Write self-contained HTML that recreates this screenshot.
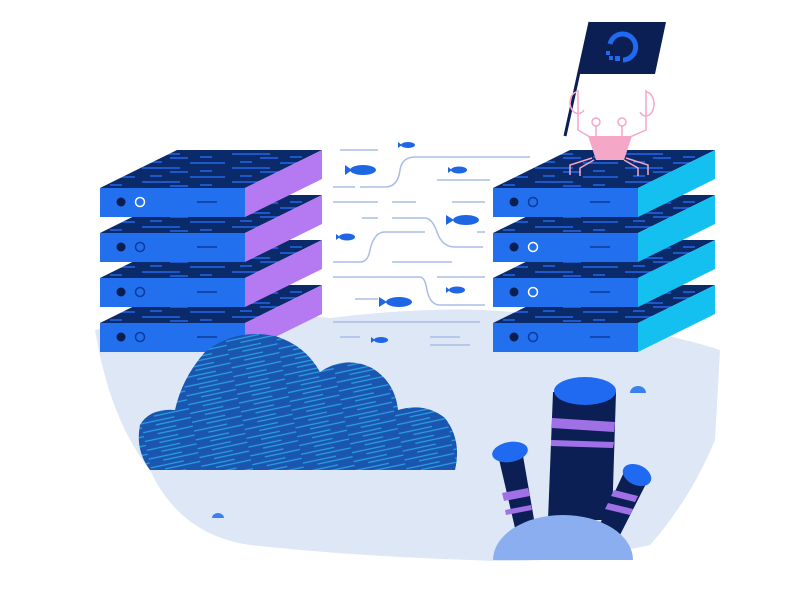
<!DOCTYPE html>
<html><head><meta charset="utf-8"><style>html,body{margin:0;padding:0;background:#fff}svg{display:block}</style></head>
<body>
<svg width="800" height="600" viewBox="0 0 800 600" xmlns="http://www.w3.org/2000/svg">
<defs>
<pattern id="streak" width="90" height="14" patternUnits="userSpaceOnUse">
<rect width="90" height="14" fill="#0b2a6a"/>
<path d="M0 3 H35 M42 8 H80 M10 11 H22 M50 2 H62 M70 12 H88" stroke="#1f5fd8" stroke-width="1.8"/>
</pattern>
<pattern id="cloudp" width="50" height="9" patternUnits="userSpaceOnUse" patternTransform="rotate(-12)">
<rect width="50" height="9" fill="#1a55b0"/>
<path d="M0 3 H34 M14 7 H50" stroke="#2a9fe0" stroke-width="1.3"/>
</pattern>
</defs>
<path d="M95 330 Q200 305 330 318 Q480 300 560 320 Q660 330 720 350 L715 440 Q690 500 650 545 Q560 565 470 560 Q350 556 250 545 Q180 535 150 470 Q110 420 95 330 Z" fill="#dde7f6"/>
<g stroke="#a9bde6" stroke-width="1.5" fill="none">
<path d="M340 150 H378 M333 187 H355 M360 187 H385 Q398 187 400 170 Q402 157 415 157 H530 M437 180 H490"/>
<path d="M333 202 H378 M392 202 H416 M452 202 H485 M362 218 H378 M392 218 H425 Q432 218 437 232 Q442 247 455 247 H483 M477 232 H485"/>
<path d="M333 262 H360 Q368 262 370 250 Q374 232 385 232 H425 M392 262 H452 M333 277 H420 Q425 277 427 290 Q430 305 440 305 H485 M437 277 H485"/>
<path d="M355 299 H378 M340 337 H360 M430 337 H460 M430 345 H470 M333 322 H480"/>
</g>
<g fill="#1f66e5">
<g transform="translate(345,170)"><ellipse cx="18" cy="0" rx="13" ry="5"/><path d="M0 -5 L7 0 L0 5 Z"/></g>
<g transform="translate(398,145)"><ellipse cx="10" cy="0" rx="7" ry="3"/><path d="M0 -3 L4 0 L0 3 Z"/></g>
<g transform="translate(448,170)"><ellipse cx="11" cy="0" rx="8" ry="3.5"/><path d="M0 -3 L4 0 L0 3 Z"/></g>
<g transform="translate(446,220)"><ellipse cx="20" cy="0" rx="13" ry="5"/><path d="M0 -5 L8 0 L0 5 Z"/></g>
<g transform="translate(336,237)"><ellipse cx="11" cy="0" rx="8" ry="3.5"/><path d="M0 -3 L4 0 L0 3 Z"/></g>
<g transform="translate(446,290)"><ellipse cx="11" cy="0" rx="8" ry="3.5"/><path d="M0 -3 L4 0 L0 3 Z"/></g>
<g transform="translate(379,302)"><ellipse cx="20" cy="0" rx="13" ry="5"/><path d="M0 -5 L8 0 L0 5 Z"/></g>
<g transform="translate(371,340)"><ellipse cx="10" cy="0" rx="7" ry="3"/><path d="M0 -3 L4 0 L0 3 Z"/></g>
</g>
<g>
<g transform="translate(100,323)"><polygon points="0,0 77,-38 222,-38 145,0" fill="url(#streak)"/><polygon points="145,0 222,-38 222,-9 145,29" fill="#b57af2"/><rect width="145" height="29" fill="#2270ee"/><circle cx="21" cy="14" r="4.5" fill="#0a1e50"/><circle cx="40" cy="14" r="4.5" fill="none" stroke="#0b3a9a" stroke-width="1.5"/><path d="M97 14 H117" stroke="#0b3a9a" stroke-width="1.5"/></g>
<g transform="translate(100,278)"><polygon points="0,0 77,-38 222,-38 145,0" fill="url(#streak)"/><polygon points="145,0 222,-38 222,-9 145,29" fill="#b57af2"/><rect width="145" height="29" fill="#2270ee"/><circle cx="21" cy="14" r="4.5" fill="#0a1e50"/><circle cx="40" cy="14" r="4.5" fill="none" stroke="#0b3a9a" stroke-width="1.5"/><path d="M97 14 H117" stroke="#0b3a9a" stroke-width="1.5"/></g>
<g transform="translate(100,233)"><polygon points="0,0 77,-38 222,-38 145,0" fill="url(#streak)"/><polygon points="145,0 222,-38 222,-9 145,29" fill="#b57af2"/><rect width="145" height="29" fill="#2270ee"/><circle cx="21" cy="14" r="4.5" fill="#0a1e50"/><circle cx="40" cy="14" r="4.5" fill="none" stroke="#0b3a9a" stroke-width="1.5"/><path d="M97 14 H117" stroke="#0b3a9a" stroke-width="1.5"/></g>
<g transform="translate(100,188)"><polygon points="0,0 77,-38 222,-38 145,0" fill="url(#streak)"/><polygon points="145,0 222,-38 222,-9 145,29" fill="#b57af2"/><rect width="145" height="29" fill="#2270ee"/><circle cx="21" cy="14" r="4.5" fill="#0a1e50"/><circle cx="40" cy="14" r="4.5" fill="none" stroke="#fff" stroke-width="1.5"/><path d="M97 14 H117" stroke="#0b3a9a" stroke-width="1.5"/></g>
</g>
<g>
<g transform="translate(493,323)"><polygon points="0,0 77,-38 222,-38 145,0" fill="url(#streak)"/><polygon points="145,0 222,-38 222,-9 145,29" fill="#14c0f0"/><rect width="145" height="29" fill="#2270ee"/><circle cx="21" cy="14" r="4.5" fill="#0a1e50"/><circle cx="40" cy="14" r="4.5" fill="none" stroke="#0b3a9a" stroke-width="1.5"/><path d="M97 14 H117" stroke="#0b3a9a" stroke-width="1.5"/></g>
<g transform="translate(493,278)"><polygon points="0,0 77,-38 222,-38 145,0" fill="url(#streak)"/><polygon points="145,0 222,-38 222,-9 145,29" fill="#14c0f0"/><rect width="145" height="29" fill="#2270ee"/><circle cx="21" cy="14" r="4.5" fill="#0a1e50"/><circle cx="40" cy="14" r="4.5" fill="none" stroke="#fff" stroke-width="1.5"/><path d="M97 14 H117" stroke="#0b3a9a" stroke-width="1.5"/></g>
<g transform="translate(493,233)"><polygon points="0,0 77,-38 222,-38 145,0" fill="url(#streak)"/><polygon points="145,0 222,-38 222,-9 145,29" fill="#14c0f0"/><rect width="145" height="29" fill="#2270ee"/><circle cx="21" cy="14" r="4.5" fill="#0a1e50"/><circle cx="40" cy="14" r="4.5" fill="none" stroke="#fff" stroke-width="1.5"/><path d="M97 14 H117" stroke="#0b3a9a" stroke-width="1.5"/></g>
<g transform="translate(493,188)"><polygon points="0,0 77,-38 222,-38 145,0" fill="url(#streak)"/><polygon points="145,0 222,-38 222,-9 145,29" fill="#14c0f0"/><rect width="145" height="29" fill="#2270ee"/><circle cx="21" cy="14" r="4.5" fill="#0a1e50"/><circle cx="40" cy="14" r="4.5" fill="none" stroke="#0b3a9a" stroke-width="1.5"/><path d="M97 14 H117" stroke="#0b3a9a" stroke-width="1.5"/></g>
</g>
<line x1="590" y1="22" x2="565" y2="136" stroke="#0b1f55" stroke-width="3"/>
<polygon points="590,22 666,22 655,74 580,74" fill="#0b1f55"/>
<path d="M610 44 A13 13 0 1 1 623 60" fill="none" stroke="#1f6af0" stroke-width="5"/>
<rect x="615" y="56" width="5" height="5" fill="#1f6af0"/><rect x="609" y="56" width="4" height="4" fill="#1f6af0"/><rect x="606" y="51" width="4" height="4" fill="#1f6af0"/>
<g stroke="#f5a7c8" stroke-width="1.5" fill="none">
<path d="M576 92 A8 11 0 1 0 584 110"/>
<path d="M578 90 V130 L590 137"/>
<path d="M646 92 A8 12 0 1 1 640 112"/>
<path d="M646 90 V130 L630 137"/>
<circle cx="596" cy="122" r="4"/><circle cx="622" cy="122" r="4"/>
<path d="M596 126 V137 M622 126 V137"/>
<path d="M592 158 L570 165 V175 M594 160 L580 168 V176 M626 158 L648 165 V175 M624 160 L638 168 V176"/>
</g>
<polygon points="588,136 632,136 624,160 596,160" fill="#f5a7c8"/>
<path d="M150 470 Q135 450 140 425 Q150 408 175 410 Q182 378 205 352 Q235 328 275 336 Q305 345 320 372 Q345 355 372 368 Q395 382 398 410 Q425 402 445 418 Q462 440 455 470 Z" fill="url(#cloudp)"/>
<g>
<polygon points="498,455 522,450 535,525 515,528" fill="#0b1f55"/>
<path d="M502 493 L528 488 L530 496 L504 501Z M505 510 L531 505 L532 510 L506 515Z" fill="#a070e6"/>
<ellipse cx="510" cy="452" rx="18" ry="10" transform="rotate(-10 510 452)" fill="#1f6af0"/>
<polygon points="553,392 616,392 612,520 548,520" fill="#0b1f55"/>
<path d="M552 418 L615 422 L614 432 L552 428Z M551 440 L614 442 L613 448 L551 446Z" fill="#a070e6"/>
<ellipse cx="585" cy="391" rx="31" ry="14" fill="#1f6af0"/>
<polygon points="625,470 648,480 620,535 598,528" fill="#0b1f55"/>
<path d="M614 490 L638 496 L635 502 L611 496Z M608 503 L633 509 L630 515 L605 509Z" fill="#a070e6"/>
<ellipse cx="637" cy="475" rx="15" ry="10" transform="rotate(25 637 475)" fill="#1f6af0"/>
<path d="M493 560 A70 45 0 0 1 633 560 Z" fill="#8aaef0"/>
</g>
<path d="M630 393 A8 7 0 0 1 646 393 Z" fill="#3a80ee"/>
<path d="M212 518 A6 5 0 0 1 224 518 Z" fill="#3a80ee"/>
</svg>
</body></html>
